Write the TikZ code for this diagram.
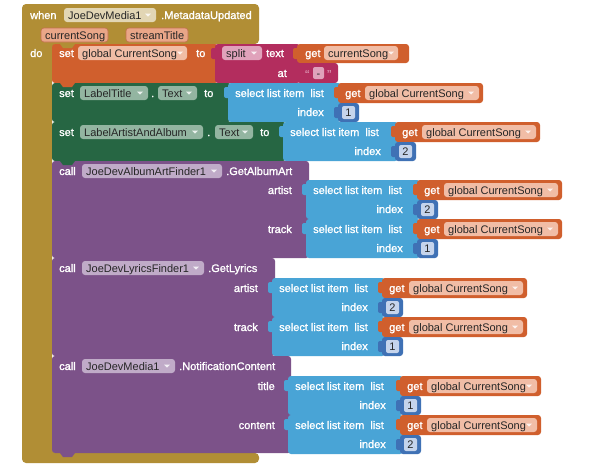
\documentclass[tikz,border=0pt]{standalone}
\usepackage{fontspec}
\setmainfont{Liberation Sans}[BoldFont=Liberation Sans, BoldFeatures={FakeBold=1.2}]
\definecolor{cGold}{RGB}{177,142,53}
\definecolor{cGoldF}{RGB}{226,214,180}
\definecolor{cOrange}{RGB}{208,95,45}
\definecolor{cOrangeF}{RGB}{241,189,166}
\definecolor{cParam}{RGB}{233,166,136}
\definecolor{cParamB}{RGB}{196,112,78}
\definecolor{cMag}{RGB}{179,45,94}
\definecolor{cMagF}{RGB}{224,162,187}
\definecolor{cGreen}{RGB}{38,102,67}
\definecolor{cGreenF}{RGB}{147,181,161}
\definecolor{cBlue}{RGB}{73,164,214}
\definecolor{cDBlue}{RGB}{63,113,181}
\definecolor{cNumF}{RGB}{197,212,236}
\definecolor{cPurple}{RGB}{124,82,137}
\definecolor{cPurpleF}{RGB}{192,171,200}
\tikzset{
  lbl/.style={text=white, font=\fontsize{11}{13}\selectfont\bfseries, inner sep=0pt, anchor=base west},
  ftxt/.style={text=black!85, font=\fontsize{11}{13}\selectfont, inner sep=0pt, anchor=base west},
  rc/.style={rounded corners=3pt},
}
% label at x, row centre y
\newcommand\lbl[4]{\node[lbl] (#1) at (#2,#3+4) {#4};}
\newcommand\rlbl[4]{\node[lbl, anchor=base east] (#1) at (#2,#3+4) {#4};}
% field: name, x1, x2, yc, fill, text
\newcommand\fld[6]{%
  \fill[#5, rc] (#2,#4-7) rectangle (#3,#4+7);
  \node[ftxt] (#1) at (#2+4,#4+4) {#6};}
% dropdown arrow at x, y
\newcommand\arr[2]{\fill[white, opacity=.8] (#1-3,#2-1.5) -- (#1+3,#2-1.5) -- (#1,#2+1.5) -- cycle;}
% left tab of a value block: x, ytop, colour
\newcommand\vtab[3]{\fill[#3, rounded corners=2pt] (#1-4,#2+4) rectangle (#1+2,#2+15);}
% statement notch: ytop, colour of previous block
\newcommand\snotch[2]{\fill[#2] (60,#1) -- (63,#1+4) -- (72,#1+4) -- (75,#1) -- cycle;}
% select list item block: name, x1, x2, ytop
\newcommand\selblk[4]{%
  \fill[cBlue, rc] (#2,#4) rectangle (#3+3,#4+39);
  \vtab{#2}{#4}{cBlue}
  \node[lbl] (#1) at (#2+7,#4+14) {select list item\ \ list};
  \node[lbl, anchor=base east] (#1i) at (#3-14,#4+33) {index};}
% get global CurrentSong: name, x1, x2, ytop
\newcommand\getblk[4]{%
  \fill[cOrange, rc] (#2,#4) rectangle (#3,#4+20);
  \vtab{#2}{#4}{cOrange}
  \node[lbl] (#1) at (#2+7,#4+14) {get};
  \fill[cOrangeF, rc] (#2+27,#4+3) rectangle (#3-4,#4+17);
  \node[ftxt] (#1v) at (#2+31,#4+14) {global CurrentSong};
  \arr{#3-12}{#4+10}}
% number block: name, x, ytop, digit
\newcommand\numblk[4]{%
  \fill[cDBlue, rc] (#2,#3) rectangle (#2+21,#3+19);
  \vtab{#2}{#3}{cDBlue}
  \fill[cNumF, rounded corners=2pt] (#2+4,#3+3) rectangle (#2+17,#3+16);
  \node[ftxt, anchor=base] (#1) at (#2+10.5,#3+13.5) {#4};}
\begin{document}
\begin{tikzpicture}[x=1pt,y=-1pt]
\useasboundingbox (0,0) rectangle (594,464);
\fill[white] (0,0) rectangle (594,464);

% event block
\fill[cGold, rounded corners=4pt] (22,4) -- (259,4) -- (259,44) -- (52,44) -- (52,453) -- (259,453) -- (259,463) -- (22,463) -- cycle;
\lbl{when}{30}{15}{when}
\fld{evcomp}{64}{156}{15}{cGoldF}{JoeDevMedia1}\arr{148}{15}
\lbl{evname}{161}{15}{.MetadataUpdated}
\fill[cParam, draw=cParamB, line width=0.6pt, rc] (41,28) rectangle (108,42);
\node[ftxt] (p1) at (45,39) {currentSong};
\fill[cParam, draw=cParamB, line width=0.6pt, rc] (126,28) rectangle (188,42);
\node[ftxt] (p2) at (130,39) {streamTitle};
\lbl{do}{30}{53}{do}

% row 1: set global CurrentSong
\fill[cOrange, rc] (52,44) rectangle (218,83);
\snotch{44}{cGold}
\lbl{set1}{59}{53}{set}
\fld{var1}{78}{187}{53}{cOrangeF}{global CurrentSong}\arr{180}{53}
\lbl{to1}{196}{53}{to}
\fill[cMag, rc] (215,44) rectangle (300,83);
\vtab{215}{44}{cMag}
\fld{splitf}{222}{262}{53}{cMagF}{split}\arr{254}{53}
\lbl{txt1}{266}{53}{text}
\rlbl{at1}{287}{73}{at}
\fill[cOrange, rc] (297,44) rectangle (409,63);
\vtab{297}{44}{cOrange}
\lbl{getc}{305}{53}{get}
\fld{getcv}{324}{398}{53}{cOrangeF}{currentSong}\arr{391}{53}
\fill[cMag, rc] (297,63) rectangle (338,83);
\vtab{297}{63}{cMag}
\node[lbl, text=cMagF, font=\fontsize{13}{13}\selectfont] (q1) at (305,79) {“};
\fill[cMagF, rounded corners=2pt] (313,67) rectangle (324,79);
\node[ftxt, anchor=base] (dash) at (318.5,77) {-};
\node[lbl, text=cMagF, font=\fontsize{13}{13}\selectfont] (q2) at (327,79) {”};

% row 2: set LabelTitle.Text
\fill[cGreen, rc] (52,83) rectangle (231,122);
\snotch{83}{cOrange}
\lbl{set2}{59}{93}{set}
\fld{comp2}{80}{148}{93}{cGreenF}{LabelTitle}\arr{140}{93}
\lbl{dot2}{151}{93}{.}
\fld{prop2}{158}{197}{93}{cGreenF}{Text}\arr{189}{93}
\lbl{to2}{204}{93}{to}
\selblk{sel2}{228}{338}{83}
\getblk{get2}{338}{483}{83}
\numblk{n2}{338}{103}{1}

% row 3: set LabelArtistAndAlbum.Text
\fill[cGreen, rc] (52,122) rectangle (286,161);
\snotch{122}{cGreen}
\lbl{set3}{59}{132}{set}
\fld{comp3}{80}{203}{132}{cGreenF}{LabelArtistAndAlbum}\arr{195}{132}
\lbl{dot3}{207}{132}{.}
\fld{prop3}{215}{253}{132}{cGreenF}{Text}\arr{245}{132}
\lbl{to3}{260}{132}{to}
\selblk{sel3}{283}{395}{122}
\getblk{get3}{395}{540}{122}
\numblk{n3}{395}{142}{2}

% row 4: call GetAlbumArt
\fill[cPurple, rc] (52,161) rectangle (309,258);
\snotch{161}{cGreen}
\lbl{call4}{59}{171}{call}
\fld{comp4}{82}{222}{171}{cPurpleF}{JoeDevAlbumArtFinder1}\arr{214}{171}
\lbl{m4}{226}{171}{.GetAlbumArt}
\rlbl{artist4}{292}{190}{artist}
\rlbl{track4}{292}{229}{track}
\selblk{sel4a}{306}{417}{180}
\getblk{get4a}{417}{562}{180}
\numblk{n4a}{417}{200}{2}
\selblk{sel4b}{306}{417}{219}
\getblk{get4b}{417}{562}{219}
\numblk{n4b}{417}{239}{1}

% row 5: call GetLyrics
\fill[cPurple, rc] (52,258) rectangle (275,356);
\snotch{258}{cPurple}
\lbl{call5}{59}{268}{call}
\fld{comp5}{82}{204}{268}{cPurpleF}{JoeDevLyricsFinder1}\arr{196}{268}
\lbl{m5}{208}{268}{.GetLyrics}
\rlbl{artist5}{258}{288}{artist}
\rlbl{track5}{258}{327}{track}
\selblk{sel5a}{272}{382}{278}
\getblk{get5a}{382}{527}{278}
\numblk{n5a}{382}{298}{2}
\selblk{sel5b}{272}{382}{317}
\getblk{get5b}{382}{527}{317}
\numblk{n5b}{382}{337}{1}

% row 6: call NotificationContent
\fill[cPurple, rc] (52,356) rectangle (291,453);
\snotch{356}{cPurple}
\snotch{453}{cPurple}
\lbl{call6}{59}{366}{call}
\fld{comp6}{82}{175}{366}{cPurpleF}{JoeDevMedia1}\arr{167}{366}
\lbl{m6}{179}{366}{.NotificationContent}
\rlbl{title6}{275}{386}{title}
\rlbl{content6}{275}{425}{content}
\selblk{sel6a}{288}{400}{376}
\getblk{get6a}{400}{541}{376}
\numblk{n6a}{400}{396}{1}
\selblk{sel6b}{288}{400}{415}
\getblk{get6b}{400}{541}{415}
\numblk{n6b}{400}{435}{2}
\end{tikzpicture}
\end{document}
